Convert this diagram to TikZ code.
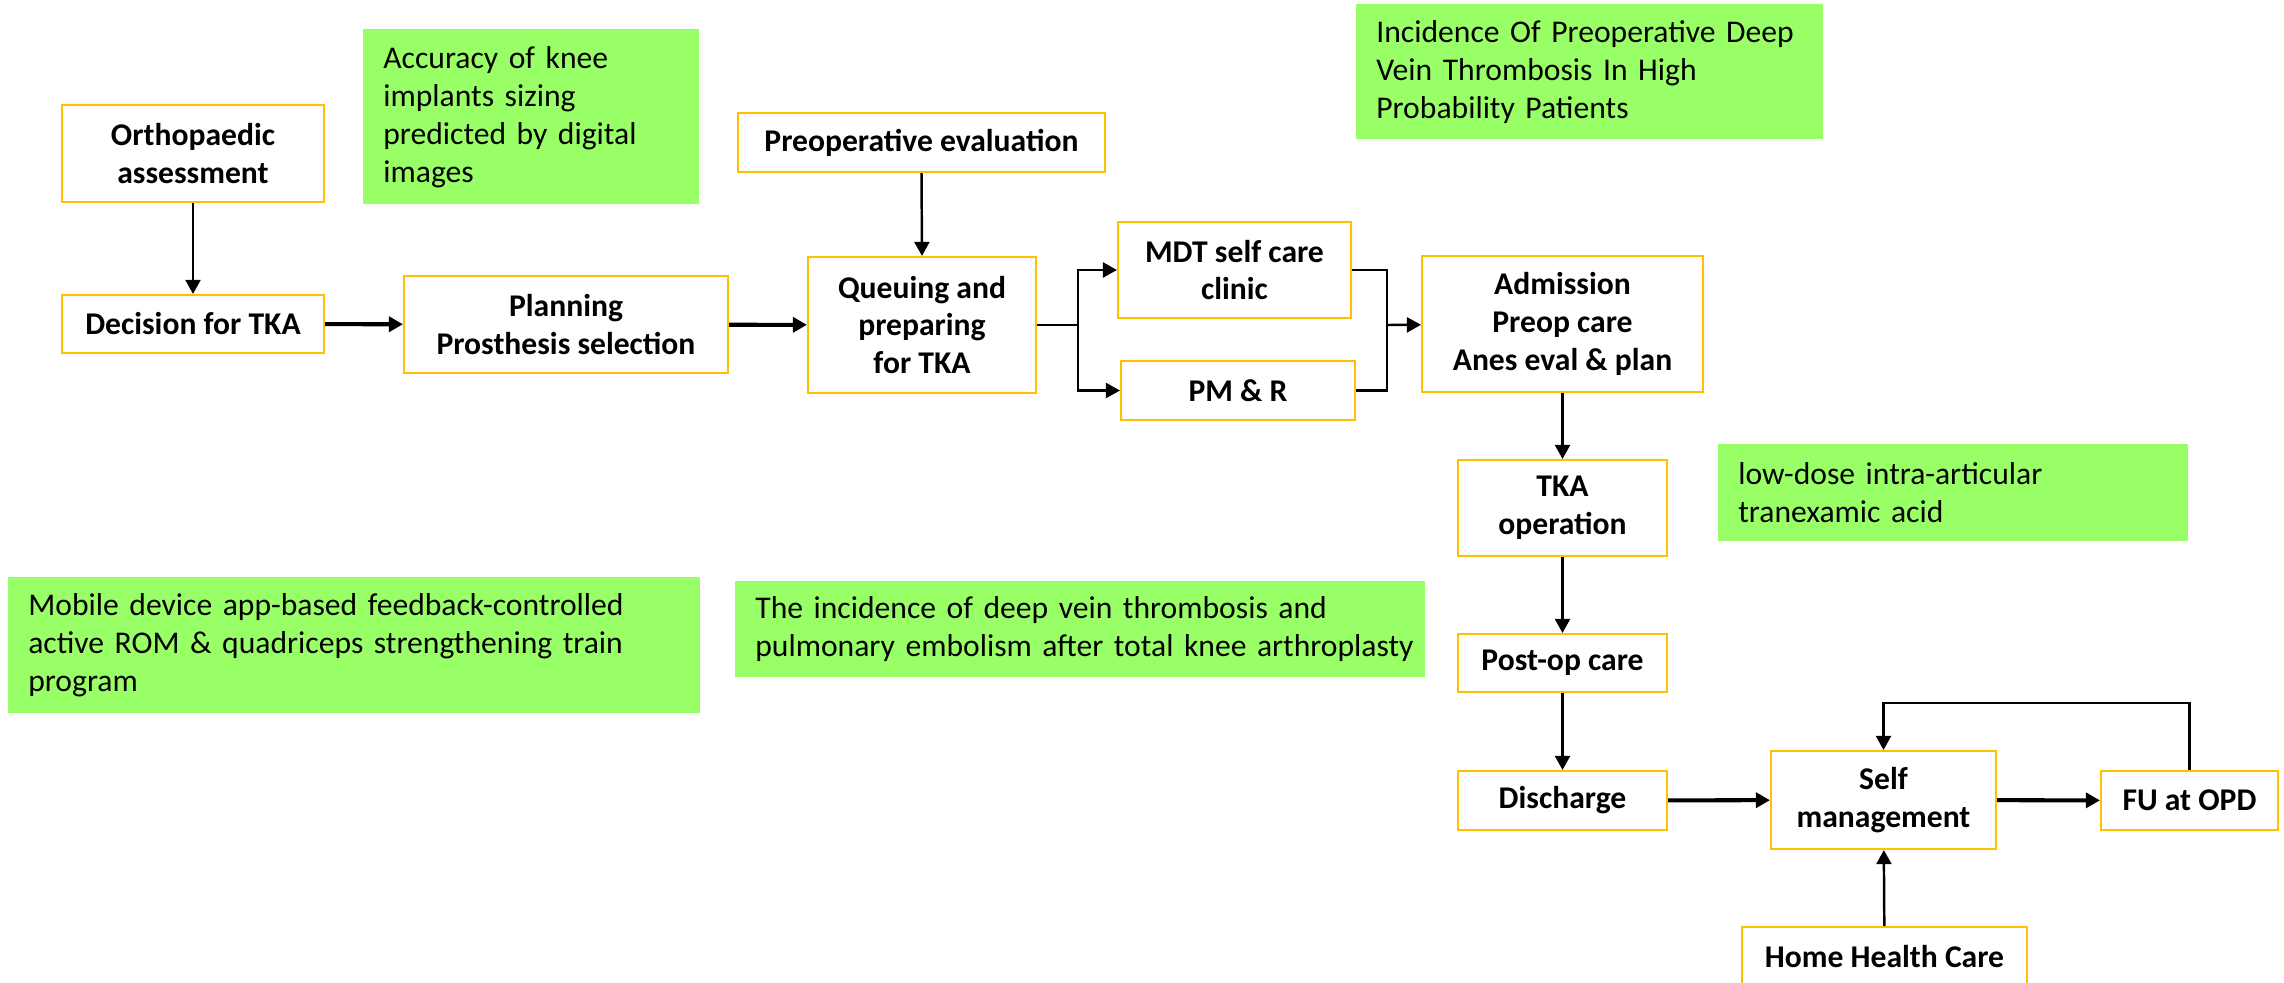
\documentclass[tikz,border=0pt]{standalone}
\usepackage{fontspec}
\setmainfont{Carlito}
\usetikzlibrary{arrows.meta}
\definecolor{ink}{RGB}{0,0,0}
\definecolor{gold}{RGB}{255,192,0}
\definecolor{leaf}{RGB}{153,255,102}
\tikzset{
  every picture/.style={color=ink, font=\fontsize{18}{21.6}\selectfont},
  box/.style={draw=gold, line width=1.2pt, fill=white, inner sep=2pt, align=center, font=\fontsize{18}{21.6}\selectfont\bfseries},
  note/.style={fill=leaf, anchor=north west, inner xsep=0.4cm, inner ysep=0pt, align=left},
  flow/.style={-{Triangle[length=8pt,width=8.5pt]}, line width=1.4pt},
  strong/.style={flow, line width=2.3pt},
  wire/.style={line width=1.4pt},
}

\begin{document}
\begin{tikzpicture}[x=0.02cm, y=-0.02cm]
  % pathway boxes sit at pixel positions of the slide, y runs downwards
  \clip (0,0) rectangle (2284,983);
  \foreach \n/\x/\y/\w/\h/\t in {
      ortho/193/153.5/5.24/1.94/{Orthopaedic\\ assessment},
      decision/193/324/5.24/1.16/{Decision for TKA},
      planning/566/324.5/6.48/1.94/{Planning\\ Prosthesis selection},
      preop/921.5/142.5/7.34/1.18/{Preoperative evaluation},
      queue/922/325/4.56/2.72/{Queuing and\\ preparing\\ for TKA},
      mdt/1234.5/270/4.66/1.92/{MDT self care\\ clinic},
      pmr/1238/390.5/4.68/1.18/{PM \& R},
      admit/1562.5/324/5.62/2.72/{Admission\\ Preop care\\ Anes eval \& plan},
      tka/1562.5/508/4.18/1.92/{TKA\\ operation},
      postop/1562.5/663/4.18/1.16/{Post-op care},
      disch/1562.5/800.5/4.18/1.18/{Discharge},
      self/1883.5/800/4.5/1.96/{Self\\ management},
      fu/2189.5/800.5/3.54/1.18/{FU at OPD},
      home/1884.5/956.5/5.7/1.18/{Home Health Care}}
    { \node[box, minimum width=\w cm, minimum height=\h cm] (\n) at (\x,\y) {\t}; }

  \node[note, text width=5.92cm, minimum height=3.5cm] (acc) at (363,29) {Accuracy of knee\\ implants sizing\\ predicted by digital\\ images};
  \node[note, text width=8.54cm, minimum height=2.7cm] (dvt) at (1356,4) {Incidence Of Preoperative Deep\\ Vein Thrombosis In High\\ Probability Patients};
  \node[note, text width=8.6cm, minimum height=1.94cm] (txa) at (1718,444) {low-dose intra-articular\\ tranexamic acid};
  \node[note, text width=13.04cm, minimum height=2.72cm] (app) at (8,577) {Mobile device app-based feedback-controlled\\ active ROM \& quadriceps strengthening train\\ program};
  \node[note, text width=13cm, minimum height=1.92cm] (vte) at (735,581) {The incidence of deep vein thrombosis and\\ \mbox{pulmonary embolism after total knee arthroplasty}};

  \coordinate (fork) at (1078,325);
  \coordinate (merge) at (1387,325);
  \draw[flow] (ortho) -- (decision);
  \draw[strong] (decision) -- (planning);
  \draw[strong] (planning) -- (queue);
  \draw[flow] (preop.south) -- (queue.north);
  \draw[wire] (queue.east) -- (fork);
  \draw[flow] (fork) |- (mdt);
  \draw[flow] (fork) |- (pmr);
  \draw[wire] (mdt) -| (merge);
  \draw[wire] (pmr) -| (merge);
  \draw[flow] (merge) -- (admit);
  \draw[flow] (admit) -- (tka);
  \draw[flow] (tka) -- (postop);
  \draw[flow] (postop) -- (disch);
  \draw[strong] (disch) -- (self);
  \draw[strong] (self) -- (fu);
  \draw[flow] (fu.north) -- ++(0,-67) -| (self.north);
  \draw[flow] (home) -- (self);
\end{tikzpicture}
\end{document}
